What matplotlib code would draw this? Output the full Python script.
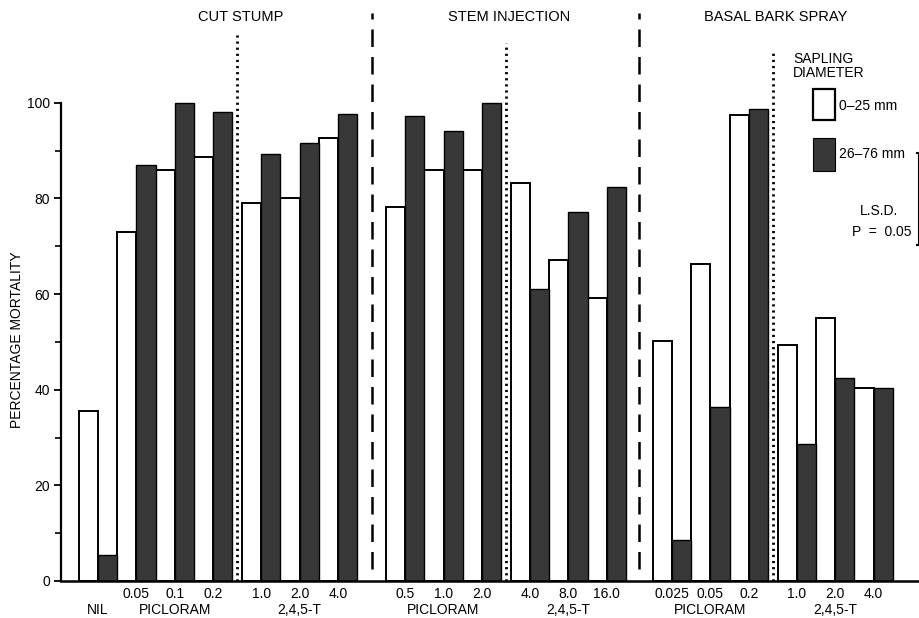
import numpy as np
import matplotlib
matplotlib.use('Agg')
import matplotlib.pyplot as plt
from matplotlib.patches import Rectangle

plt.rcParams['font.family'] = ['Liberation Sans', 'DejaVu Sans']

# values (percentage mortality)
doses = ["", "0.05", "0.1", "0.2", "1.0", "2.0", "4.0",
         "0.5", "1.0", "2.0", "4.0", "8.0", "16.0",
         "0.025", "0.05", "0.2", "1.0", "2.0", "4.0"]
small_vals = [35.5, 73, 86, 88.7, 79, 80, 92.7,
              78.2, 86, 86, 83.3, 67.2, 59.2,
              50.2, 66.3, 97.5, 49.4, 55, 40.4]
large_vals = [5.5, 87, 100, 98, 89.3, 91.6, 97.7,
              97.3, 94.1, 100, 61, 77.2, 82.4,
              8.6, 36.4, 98.7, 28.7, 42.5, 40.4]
groups = ["NIL", "PICLORAM", "2,4,5-T", "PICLORAM", "2,4,5-T", "PICLORAM", "2,4,5-T"]
group_sizes = [1, 3, 3, 3, 3, 3, 3]
methods = ["CUT STUMP", "STEM INJECTION", "BASAL BARK SPRAY"]
legend_labels = ["0\u201325 mm", "26\u201376 mm"]

DARK = '#383838'
FS = 10
gaps = [0, 0, 0.25, 0.75, 0.25, 0.7, 0.25]

# pair centres
pos = []
group_centres = []
seps = []
x = -1
for g, (n, gap) in enumerate(zip(group_sizes, gaps)):
    if gap > 0:
        seps.append((x + 0.5 + gap / 2, gap))
    x += gap
    block = [x + 1 + i for i in range(n)]
    pos.extend(block)
    group_centres.append(np.mean(block))
    x = block[-1]
pos = np.array(pos)

fig = plt.figure(figsize=(9.2, 6.18), dpi=100)
ax = fig.add_axes([61 / 920, 37 / 618, 1 - 61 / 920, 581 / 618])

w = 0.5
ax.bar(pos - w / 2, small_vals, w, color='white', edgecolor='black', linewidth=1.4, zorder=2)
ax.bar(pos + w / 2, large_vals, w, color=DARK, edgecolor='black', linewidth=1.0, zorder=2)

ax.set_xlim(-0.964, 21.41)
ax.set_ylim(0, 121.5)

for sp in ['top', 'right']:
    ax.spines[sp].set_visible(False)
ax.spines['left'].set_bounds(0, 100)
ax.spines['left'].set_linewidth(1.6)
ax.spines['bottom'].set_linewidth(1.8)

ax.set_yticks(np.arange(0, 101, 20))
ax.set_yticks(np.arange(10, 100, 20), minor=True)
ax.tick_params(axis='y', which='major', length=5, width=1.3, labelsize=FS, pad=3)
ax.tick_params(axis='y', which='minor', length=4, width=1.2)
ax.set_ylabel("PERCENTAGE MORTALITY", fontsize=FS)
ax.yaxis.set_label_coords(-0.043, 0.415)

ax.set_xticks(pos)
ax.set_xticklabels(doses, fontsize=FS)
ax.tick_params(axis='x', length=0, pad=4)

for name, cx in zip(groups, group_centres):
    ax.text(cx, -6.0, name, ha='center', va='center', fontsize=FS)

# separators between treatments / methods
dot_tops = [114.2, 112.5, 110.7]
k = 0
for sx, gap in seps:
    if gap < 0.5:
        ax.plot([sx, sx], [0, dot_tops[k]], color='black', lw=2.0,
                linestyle=(0, (0.8, 1.4)), clip_on=False, zorder=3)
        ax.text(sx + 0.08, 118, methods[k], ha='center', va='center', fontsize=10.5)
        k += 1
    else:
        ax.plot([sx, sx], [2.5, 118.8], color='black', lw=1.8,
                linestyle=(0, (7, 4)), clip_on=False, zorder=3)

# legend
ax.text(18.1, 110.6, "SAPLING\nDIAMETER", ha='left', va='top', multialignment='left',
        fontsize=FS, linespacing=0.95)
ax.add_patch(Rectangle((18.62, 96.4), 0.57, 6.5, facecolor='white', edgecolor='black', lw=1.6))
ax.add_patch(Rectangle((18.62, 85.8), 0.57, 6.9, facecolor=DARK, edgecolor='black', lw=0.8))
ax.text(19.3, 99.4, legend_labels[0], ha='left', va='center', fontsize=FS)
ax.text(19.3, 89.2, legend_labels[1], ha='left', va='center', fontsize=FS)

# L.S.D. bracket
ax.plot([21.32, 21.38, 21.38, 21.32], [89.5, 89.5, 70.3, 70.3], color='black', lw=1.5, clip_on=False)
ax.text(20.84, 77.4, "L.S.D.", ha='right', va='center', fontsize=FS)
ax.text(21.2, 73.0, "P  =  0.05", ha='right', va='center', fontsize=FS)

fig.savefig('out.png', dpi=100)
